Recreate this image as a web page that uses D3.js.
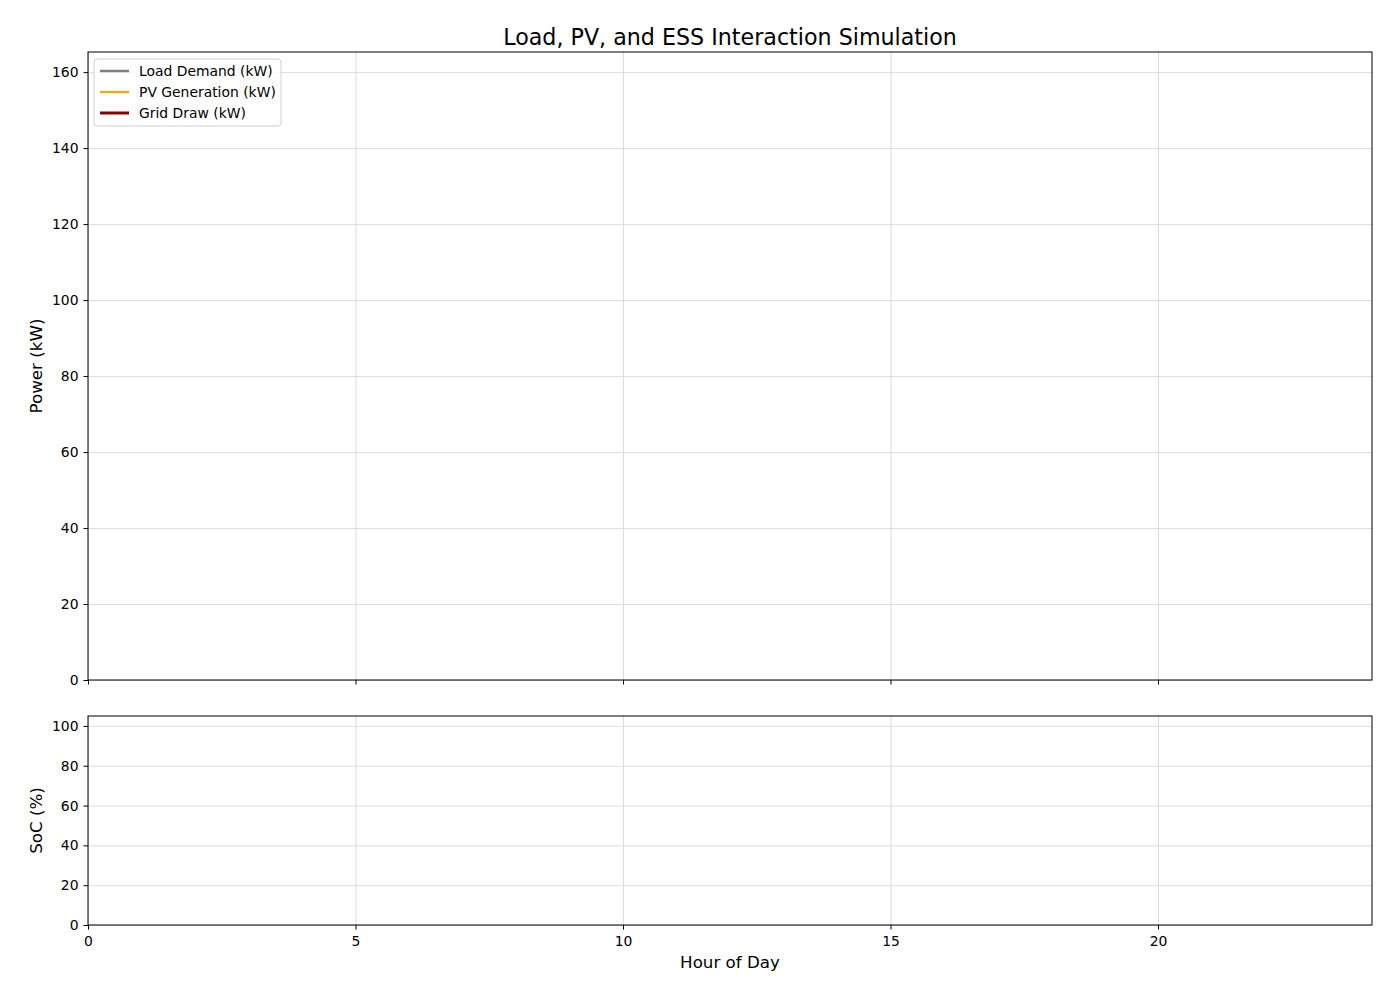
<!DOCTYPE html>
<html>
<head>
<meta charset="utf-8">
<script src="https://cdn.jsdelivr.net/npm/d3@7"></script>
<style>
  body { margin: 0; background: #fff; }
  text { font-family: "DejaVu Sans", sans-serif; fill: #000; }
  .axis line { stroke: #000; }
  .grid line { stroke: #d3d3d3; stroke-width: 0.8; }
  .grid path { display: none; }
</style>
</head>
<body>
<div id="chart"></div>
<script>
// data (the reference shows no plotted values, only the frame)
const hours = [];
const loadDemand = [];
const pvGeneration = [];
const gridDraw = [];
const soc = [];

const seriesNames = ["Load Demand (kW)", "PV Generation (kW)", "Grid Draw (kW)"];
const seriesColors = ["#808080", "#ffa500", "#8b0000"];
const seriesWidths = [2.5, 2.2, 3];

const xTicks = [0, 5, 10, 15, 20];
const powerTicks = [0, 20, 40, 60, 80, 100, 120, 140, 160];
const socTicks = [0, 20, 40, 60, 80, 100];

/* layout */
const W = 1400, H = 1000;
const left = 88, right = 1372;
const top1 = 52, bottom1 = 680;
const top2 = 716, bottom2 = 925;
const tickFont = "13.9px";

const svg = d3.select("#chart").append("svg")
  .attr("width", W).attr("height", H);

const xScale = d3.scaleLinear().domain([0, 24]).range([left, right]);
const yPower = d3.scaleLinear().domain([0, 165.3]).range([bottom1, top1]);
const ySoc = d3.scaleLinear().domain([0, 105]).range([bottom2, top2]);

/* grids */
function drawGrid(yScale, yTicks, top, bottom) {
  svg.append("g").attr("class", "grid")
    .attr("transform", `translate(0,${bottom})`)
    .call(d3.axisBottom(xScale).tickValues(xTicks).tickSize(-(bottom - top)).tickFormat(""));
  svg.append("g").attr("class", "grid")
    .attr("transform", `translate(${left},0)`)
    .call(d3.axisLeft(yScale).tickValues(yTicks).tickSize(-(right - left)).tickFormat(""));
}
drawGrid(yPower, powerTicks, top1, bottom1);
drawGrid(ySoc, socTicks, top2, bottom2);

/* lines */
const powerSeries = [loadDemand, pvGeneration, gridDraw];
const line = yScale => d3.line()
  .x((d, i) => xScale(hours[i]))
  .y(d => yScale(d));

powerSeries.forEach((s, i) => {
  if (!s.length) return;
  svg.append("path")
    .datum(s)
    .attr("fill", "none")
    .attr("stroke", seriesColors[i])
    .attr("stroke-width", seriesWidths[i])
    .attr("d", line(yPower));
});
if (soc.length) {
  svg.append("path").datum(soc)
    .attr("fill", "none").attr("stroke", "#1f77b4").attr("stroke-width", 2)
    .attr("d", line(ySoc));
}

/* axes */
svg.append("g").attr("class", "axis")
  .attr("transform", `translate(0,${bottom1})`)
  .call(d3.axisBottom(xScale).tickValues(xTicks).tickSize(4.5).tickFormat("").tickSizeOuter(0));
svg.append("g").attr("class", "axis")
  .attr("transform", `translate(${left},0)`)
  .call(d3.axisLeft(yPower).tickValues(powerTicks).tickSize(4.5).tickPadding(5).tickSizeOuter(0));

svg.append("g").attr("class", "axis")
  .attr("transform", `translate(0,${bottom2})`)
  .call(d3.axisBottom(xScale).tickValues(xTicks).tickSize(4.5).tickPadding(6.5).tickSizeOuter(0));
svg.append("g").attr("class", "axis")
  .attr("transform", `translate(${left},0)`)
  .call(d3.axisLeft(ySoc).tickValues(socTicks).tickSize(4.5).tickPadding(5).tickSizeOuter(0));

svg.selectAll(".axis path").remove();
svg.selectAll(".axis").attr("font-size", null).attr("font-family", null);
svg.selectAll(".axis text").style("font-size", tickFont);

/* frames */
[[top1, bottom1], [top2, bottom2]].forEach(([t, b]) => {
  svg.append("rect")
    .attr("x", left).attr("y", t)
    .attr("width", right - left).attr("height", b - t)
    .attr("fill", "none").attr("stroke", "#000").attr("stroke-width", 1);
});

/* titles */
svg.append("text")
  .attr("x", (left + right) / 2).attr("y", 44.5)
  .attr("text-anchor", "middle")
  .style("font-size", "22.2px")
  .text("Load, PV, and ESS Interaction Simulation");

svg.append("text")
  .attr("transform", `translate(42,${(top1 + bottom1) / 2}) rotate(-90)`)
  .attr("text-anchor", "middle")
  .style("font-size", "16.7px")
  .text("Power (kW)");

svg.append("text")
  .attr("transform", `translate(42,${(top2 + bottom2) / 2}) rotate(-90)`)
  .attr("text-anchor", "middle")
  .style("font-size", "16.7px")
  .text("SoC (%)");

svg.append("text")
  .attr("x", (left + right) / 2).attr("y", 968)
  .attr("text-anchor", "middle")
  .style("font-size", "16.7px")
  .text("Hour of Day");

/* legend */
const legend = svg.append("g").attr("transform", "translate(94,59)");
legend.append("rect")
  .attr("width", 187).attr("height", 67).attr("rx", 3)
  .attr("fill", "#fff").attr("fill-opacity", 0.8)
  .attr("stroke", "#d0d0d0");
seriesNames.forEach((name, i) => {
  const y = 12 + i * 21;
  legend.append("line")
    .attr("x1", 6).attr("x2", 35).attr("y1", y).attr("y2", y)
    .attr("stroke", seriesColors[i]).attr("stroke-width", seriesWidths[i]);
  legend.append("text")
    .attr("x", 45).attr("y", y + 5)
    .style("font-size", tickFont)
    .text(name);
});
</script>
</body>
</html>
